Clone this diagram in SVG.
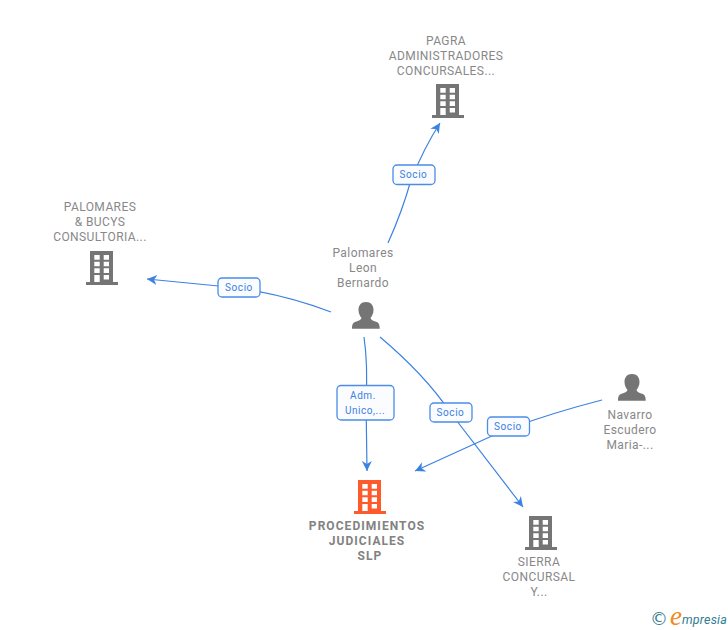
<svg xmlns="http://www.w3.org/2000/svg" width="728" height="630" viewBox="0 0 728 630">
<style>
text{font-family:Roboto,"Liberation Sans",Arial,sans-serif}
.n{font-size:12px;fill:#888888;text-anchor:middle;letter-spacing:.42px}
.m{font-size:12px;font-weight:700;fill:#828282;text-anchor:middle;letter-spacing:1.05px}
.l{font-size:10px;fill:#3b7fe0;text-anchor:middle;letter-spacing:.55px}
.c{fill:none;stroke:#3c82e2;stroke-width:1.2}
.b{fill:#fafcff;stroke:#4a8ce6;stroke-width:1.3}
.g{fill:#757575}.o{fill:#ff5a2b}
</style>
<defs>
<marker id="a" markerUnits="userSpaceOnUse" markerWidth="14" markerHeight="14" refX="10" refY="6" orient="auto"><path d="M0 1L10 6L0 11L3 6Z" fill="#3c82e2"/></marker>
<path id="bld" fill-rule="evenodd" d="M4 0H27V31H32V34H0V31H4ZM8.3 4V8.7H13.7V4ZM17.7 4V8.7H23V4ZM8.3 10.7V15.3H13.7V10.7ZM17.7 10.7V15.3H23V10.7ZM8.3 17.3V22H13.7V17.3ZM17.7 17.3V22H23V17.3ZM8.3 24V31H13.7V24ZM17.7 24V28.5H23V24Z"/>
<path id="psn" d="M14 0C19 0 21.5 3.500 21.500 8C21.500 11.500 20 14 18.500 16C19 18 21 18.700 24 19.800C26.500 20.700 27.700 22 27.700 26.700H0C0 22 1.200 20.700 3.700 19.800C6.700 18.700 9 18 9.500 16C8 14 6.500 11.500 6.500 8C6.500 3.500 9 0 14 0Z"/>
</defs>
<g id="connectors">
<path class="c" marker-end="url(#a)" d="M388 243Q402 212 411 180Q424 148 440 123"/>
<path class="c" marker-end="url(#a)" d="M331 312Q290 296 239 288L147 279"/>
<path class="c" marker-end="url(#a)" d="M364 337Q368 365 366 400L367 471"/>
<path class="c" marker-end="url(#a)" d="M380 337Q425 375 450 412L523 507"/>
<path class="c" marker-end="url(#a)" d="M602 400Q555 412 505 430L415 471"/>
</g>
<g id="label-pagra"><rect class="b" x="393" y="165" width="42" height="19.500" rx="4"/><text class="l" x="413.500" y="178">Socio</text></g>
<g id="label-palomares"><rect class="b" x="218" y="278" width="42" height="19" rx="4"/><text class="l" x="239" y="291">Socio</text></g>
<g id="label-adm"><rect class="b" x="337" y="385.500" width="57" height="34.500" rx="4"/><text class="l" x="363" y="399">Adm.</text><text class="l" x="365" y="414">Unico,...</text></g>
<g id="label-sierra"><rect class="b" x="430" y="403" width="42" height="19" rx="4"/><text class="l" x="450.500" y="416">Socio</text></g>
<g id="label-navarro"><rect class="b" x="487.500" y="417" width="42" height="19" rx="4"/><text class="l" x="508" y="430">Socio</text></g>
<g id="node-pagra"><text class="n" x="446" y="45">PAGRA</text><text class="n" x="446" y="60">ADMINISTRADORES</text><text class="n" x="446" y="75">CONCURSALES...</text><use href="#bld" class="g" x="432" y="84"/></g>
<g id="node-palomares-bucys"><text class="n" x="100" y="211">PALOMARES</text><text class="n" x="100" y="226">&amp; BUCYS</text><text class="n" x="100" y="241">CONSULTORIA...</text><use href="#bld" class="g" x="86" y="251"/></g>
<g id="node-palomares-leon"><text class="n" x="363" y="257">Palomares</text><text class="n" x="363" y="272">Leon</text><text class="n" x="363" y="287">Bernardo</text><use href="#psn" class="g" x="352" y="302"/></g>
<g id="node-navarro"><use href="#psn" class="g" x="618" y="374"/><text class="n" x="630" y="419">Navarro</text><text class="n" x="630" y="434">Escudero</text><text class="n" x="630" y="449">Maria-...</text></g>
<g id="node-procedimientos"><use href="#bld" class="o" x="354" y="480"/><text class="m" x="367" y="530">PROCEDIMIENTOS</text><text class="m" x="367" y="545">JUDICIALES</text><text class="m" x="370" y="560">SLP</text></g>
<g id="node-sierra"><use href="#bld" class="g" x="525" y="516"/><text class="n" x="539" y="566">SIERRA</text><text class="n" x="539" y="581">CONCURSAL</text><text class="n" x="539" y="596">Y...</text></g>
<g id="logo"><text x="650" y="625" font-size="18" fill="#3d7f93" style="font-family:'DejaVu Sans',sans-serif">©</text><text x="670" y="625" font-size="27" font-style="italic" fill="#f08a1d" style="font-family:'Liberation Serif',serif">e</text><text x="682" y="624" font-size="12.500" font-style="italic" fill="#2f7d92" letter-spacing=".2">mpresia</text></g>
</svg>
